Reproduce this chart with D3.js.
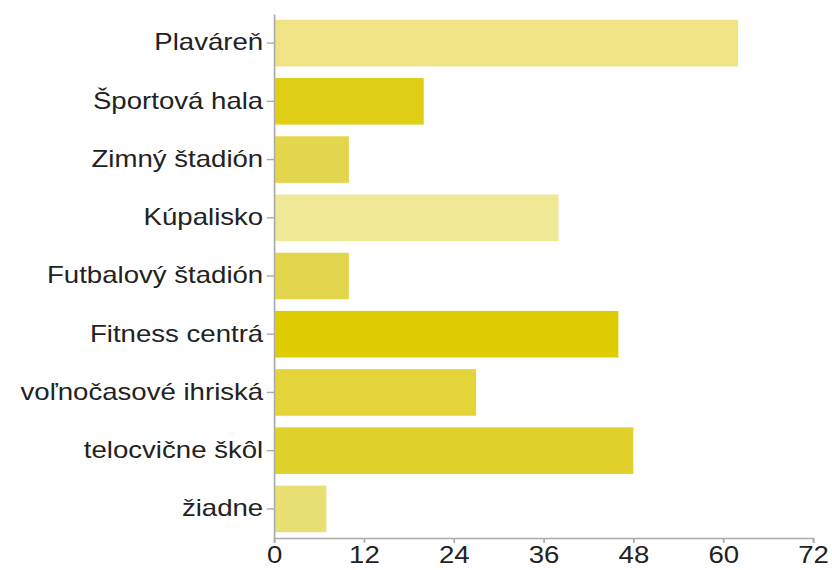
<!DOCTYPE html>
<html lang="sk">
<head>
    <meta charset="UTF-8">
    <title>Športoviská</title>
    <script src="https://d3js.org/d3.v7.min.js"></script>
    <style>
        body {
            margin: 0;
            background: #fff;
        }
        .axis text {
            font-family: "Liberation Sans", Arial, Helvetica, sans-serif;
            font-size: 23px;
            fill: #222;
        }
        .axis path,
        .axis line {
            stroke: #aaa;
            stroke-width: 1.4;
        }
    </style>
</head>
<body>
    <svg id="chart"></svg>
    <script>
        // Data
        const categories = [
            "Plaváreň", "Športová hala", "Zimný štadión", "Kúpalisko",
            "Futbalový štadión", "Fitness centrá", "voľnočasové ihriská",
            "telocvične škôl", "žiadne"
        ];
        const values = [62, 20, 10, 38, 10, 46, 27, 48, 7];
        const xTicks = [0, 12, 24, 36, 48, 60, 72];
        const barColors = [
            "#efe385", "#dfce15", "#e4d64c", "#efe894", "#e4d64c",
            "#dccc00", "#e3d43a", "#e0d12a", "#e8df72"
        ];

        // The original is stretched horizontally, so draw in a narrower
        // coordinate space and let the viewBox widen it
        const stretch = 1.2;
        const W = 832, H = 570;
        const innerW = W / stretch;

        const svg = d3.select("#chart")
            .attr("width", W)
            .attr("height", H)
            .attr("viewBox", `0 0 ${innerW} ${H}`)
            .attr("preserveAspectRatio", "none");

        const left = 274 / stretch;
        const right = 813 / stretch;
        const axisY = 538;

        const x = d3.scaleLinear()
            .domain([0, 72])
            .range([left, right]);

        const y = d3.scaleBand()
            .domain(categories)
            .range([14, 538])
            .paddingInner(0.2)
            .paddingOuter(0.1);

        const rows = categories.map((c, i) => ({ name: c, value: values[i], color: barColors[i] }));

        // Bars
        svg.append("g")
            .selectAll("rect")
            .data(rows)
            .enter()
            .append("rect")
            .attr("x", x(0) + 1)
            .attr("y", d => y(d.name))
            .attr("width", d => x(d.value) - x(0) - 1)
            .attr("height", y.bandwidth())
            .attr("fill", d => d.color);

        // Axes
        svg.append("g")
            .attr("class", "axis")
            .attr("transform", `translate(${left},0)`)
            .call(d3.axisLeft(y).tickSize(6).tickSizeOuter(0).tickPadding(3));

        svg.append("g")
            .attr("class", "axis")
            .attr("transform", `translate(0,${axisY})`)
            .call(d3.axisBottom(x).tickValues(xTicks).tickSize(5).tickSizeOuter(5).tickPadding(4));
    </script>
</body>
</html>
